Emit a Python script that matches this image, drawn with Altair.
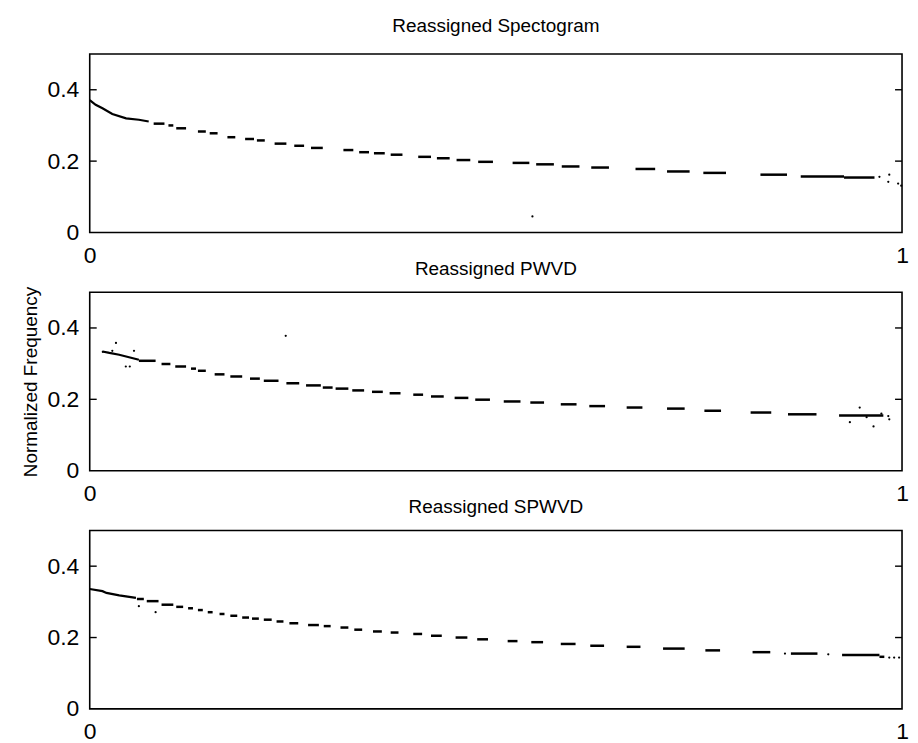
import altair as alt
import pandas as pd

TITLES = ["Reassigned Spectogram", "Reassigned PWVD", "Reassigned SPWVD"]
Y_LABEL = "Normalized Frequency"
Y_TICKS = [0, 0.2, 0.4]
X_TICKS = [0, 1]
INNER_TICKS = [0.2, 0.4]

# ---- Panel 1: Reassigned Spectogram ----
P1_CURVE_X = [0.0, 0.0073, 0.0157, 0.0278, 0.0448, 0.0605, 0.0726]
P1_CURVE_Y = [0.371, 0.358, 0.348, 0.332, 0.320, 0.316, 0.311]
P1_DASH_X0 = [0.0787, 0.0969, 0.1065, 0.1332, 0.1477, 0.1695, 0.1913, 0.2058, 0.2276, 0.2518,
              0.2724, 0.3123, 0.3317, 0.3499, 0.3705, 0.4044, 0.4274, 0.4516, 0.4782, 0.5206,
              0.5496, 0.5811, 0.6174, 0.6719, 0.7107, 0.7554, 0.8257, 0.8753, 0.9286]
P1_DASH_X1 = [0.0920, 0.1029, 0.1186, 0.1429, 0.1574, 0.1792, 0.2022, 0.2155, 0.2421, 0.2639,
              0.2869, 0.3245, 0.3438, 0.3632, 0.3850, 0.4201, 0.4431, 0.4685, 0.4964, 0.5412,
              0.5714, 0.6029, 0.6392, 0.6961, 0.7385, 0.7833, 0.8584, 0.9286, 0.9661]
P1_DASH_Y = [0.305, 0.300, 0.292, 0.283, 0.278, 0.267, 0.262, 0.258, 0.249, 0.243,
             0.237, 0.231, 0.225, 0.222, 0.218, 0.212, 0.208, 0.203, 0.198, 0.195,
             0.191, 0.185, 0.182, 0.178, 0.171, 0.167, 0.162, 0.157, 0.154]
P1_DOT_X = [0.9722, 0.9843, 0.9831, 0.9952, 0.999, 0.545]
P1_DOT_Y = [0.156, 0.162, 0.142, 0.137, 0.131, 0.045]

# ---- Panel 2: Reassigned PWVD ----
P2_CURVE_X = [0.0157, 0.0242, 0.0363, 0.0484, 0.0605]
P2_CURVE_Y = [0.334, 0.330, 0.325, 0.318, 0.311]
P2_DASH_X0 = [0.0605, 0.0884, 0.1053, 0.1247, 0.1332, 0.1538, 0.1731, 0.1973, 0.2143, 0.2421,
              0.2663, 0.2869, 0.3027, 0.3232, 0.3475, 0.3692, 0.3983, 0.4201, 0.4492, 0.4746,
              0.5097, 0.5424, 0.5799, 0.6150, 0.6610, 0.7107, 0.7567, 0.8136, 0.8596, 0.9225]
P2_DASH_X1 = [0.0811, 0.0993, 0.1186, 0.1308, 0.1429, 0.1659, 0.1877, 0.2094, 0.2324, 0.2579,
              0.2845, 0.2990, 0.3184, 0.3378, 0.3608, 0.3826, 0.4104, 0.4358, 0.4661, 0.4927,
              0.5303, 0.5593, 0.5993, 0.6344, 0.6804, 0.7324, 0.7772, 0.8390, 0.8947, 0.9770]
P2_DASH_Y = [0.308, 0.299, 0.292, 0.286, 0.280, 0.270, 0.264, 0.258, 0.252, 0.245,
             0.239, 0.233, 0.230, 0.225, 0.221, 0.217, 0.213, 0.208, 0.204, 0.199,
             0.194, 0.191, 0.186, 0.181, 0.177, 0.174, 0.168, 0.163, 0.158, 0.155]
P2_DOT_X = [0.0161, 0.0278, 0.0323, 0.0545, 0.0444, 0.0493, 0.2413,
            0.9479, 0.9358, 0.9649, 0.9831, 0.9843, 0.9564, 0.9746]
P2_DOT_Y = [0.333, 0.336, 0.358, 0.336, 0.292, 0.292, 0.378,
            0.177, 0.136, 0.124, 0.153, 0.144, 0.150, 0.160]

# ---- Panel 3: Reassigned SPWVD ----
P3_CURVE_X = [0.0, 0.0157, 0.0206, 0.0363, 0.0569]
P3_CURVE_Y = [0.336, 0.330, 0.325, 0.318, 0.311]
P3_DASH_X0 = [0.0581, 0.0702, 0.0884, 0.1065, 0.1211, 0.1332, 0.1453, 0.1598, 0.1731, 0.1877,
              0.1998, 0.2143, 0.2300, 0.2458, 0.2688, 0.2881, 0.3087, 0.3257, 0.3487, 0.3705,
              0.3983, 0.4201, 0.4504, 0.4770, 0.5145, 0.5436, 0.5799, 0.6162, 0.6610, 0.7058,
              0.7579, 0.8160, 0.8632, 0.9262, 0.9722]
P3_DASH_X1 = [0.0666, 0.0847, 0.1029, 0.1150, 0.1271, 0.1392, 0.1513, 0.1659, 0.1816, 0.1961,
              0.2082, 0.2240, 0.2385, 0.2567, 0.2821, 0.2966, 0.3184, 0.3354, 0.3596, 0.3801,
              0.4092, 0.4334, 0.4649, 0.4903, 0.5266, 0.5581, 0.5981, 0.6332, 0.6780, 0.7324,
              0.7760, 0.8378, 0.8959, 0.9722, 0.9782]
P3_DASH_Y = [0.308, 0.302, 0.292, 0.286, 0.282, 0.277, 0.271, 0.266, 0.261, 0.256,
             0.253, 0.250, 0.245, 0.240, 0.235, 0.232, 0.228, 0.222, 0.217, 0.214,
             0.210, 0.205, 0.200, 0.195, 0.190, 0.187, 0.182, 0.177, 0.174, 0.169,
             0.164, 0.159, 0.155, 0.151, 0.146]
P3_DOT_X = [0.0605, 0.0811, 0.8559, 0.9092, 0.9843, 0.9903, 0.9964]
P3_DOT_Y = [0.288, 0.271, 0.155, 0.153, 0.144, 0.144, 0.144]

PANELS = [
    (P1_CURVE_X, P1_CURVE_Y, P1_DASH_X0, P1_DASH_X1, P1_DASH_Y, P1_DOT_X, P1_DOT_Y),
    (P2_CURVE_X, P2_CURVE_Y, P2_DASH_X0, P2_DASH_X1, P2_DASH_Y, P2_DOT_X, P2_DOT_Y),
    (P3_CURVE_X, P3_CURVE_Y, P3_DASH_X0, P3_DASH_X1, P3_DASH_Y, P3_DOT_X, P3_DOT_Y),
]
TITLE_OFFSETS = [12, 7, 7]

FONT = "Liberation Sans"
W, H = 815, 179

xscale = alt.Scale(domain=[0, 1], nice=False, zero=False)
yscale = alt.Scale(domain=[0, 0.5], nice=False)


def make_panel(i):
    cx, cy, d0, d1, dy, px, py = PANELS[i]
    title_color = "black" if i == 1 else "transparent"
    xaxis = alt.Axis(values=X_TICKS, format="~g", ticks=False, domain=False, grid=False,
                     labelFontSize=23, labelFont=FONT, labelColor="black", labelPadding=12,
                     labelFlush=False, title=None)
    yaxis = alt.Axis(values=Y_TICKS, format="~g", ticks=False, domain=False, grid=False,
                     labelFontSize=23, labelFont=FONT, labelColor="black", labelPadding=11,
                     title=Y_LABEL, titleFont=FONT, titleFontSize=19, titleFontWeight="normal",
                     titleColor=title_color, titlePadding=6)

    curve = alt.Chart(pd.DataFrame({"x": cx, "y": cy})).mark_line(
        color="black", strokeWidth=2.2
    ).encode(
        x=alt.X("x:Q", scale=xscale, axis=xaxis),
        y=alt.Y("y:Q", scale=yscale, axis=yaxis),
    )
    dashes = alt.Chart(pd.DataFrame({"x0": d0, "x1": d1, "y": dy})).mark_rule(
        color="black", strokeWidth=2.5
    ).encode(
        x=alt.X("x0:Q", scale=xscale),
        x2="x1:Q",
        y=alt.Y("y:Q", scale=yscale),
    )
    dots = alt.Chart(pd.DataFrame({"x": px, "y": py})).mark_circle(
        color="black", size=5, opacity=1
    ).encode(
        x=alt.X("x:Q", scale=xscale),
        y=alt.Y("y:Q", scale=yscale),
    )
    tick_df = pd.DataFrame({"v": INNER_TICKS})
    ticks_left = alt.Chart(tick_df).mark_rule(color="black", strokeWidth=1.4).encode(
        x=alt.value(0), x2=alt.value(7), y=alt.Y("v:Q", scale=yscale)
    )
    ticks_right = alt.Chart(tick_df).mark_rule(color="black", strokeWidth=1.4).encode(
        x=alt.value(W - 7), x2=alt.value(W), y=alt.Y("v:Q", scale=yscale)
    )
    return alt.layer(curve, dashes, dots, ticks_left, ticks_right).properties(
        width=W, height=H,
        title=alt.TitleParams(TITLES[i], font=FONT, fontSize=19, fontWeight="normal",
                              color="black", anchor="middle", offset=TITLE_OFFSETS[i]),
    )


chart = alt.vconcat(*[make_panel(i) for i in range(3)], spacing=60, bounds="flush").properties(
    padding={"left": 13, "top": 7, "right": 0, "bottom": 0}
).configure(
    background="white",
    view=alt.ViewConfig(stroke="black", strokeWidth=1.6),
)

chart.save("out.html", embed_options={"renderer": "svg", "actions": False})
